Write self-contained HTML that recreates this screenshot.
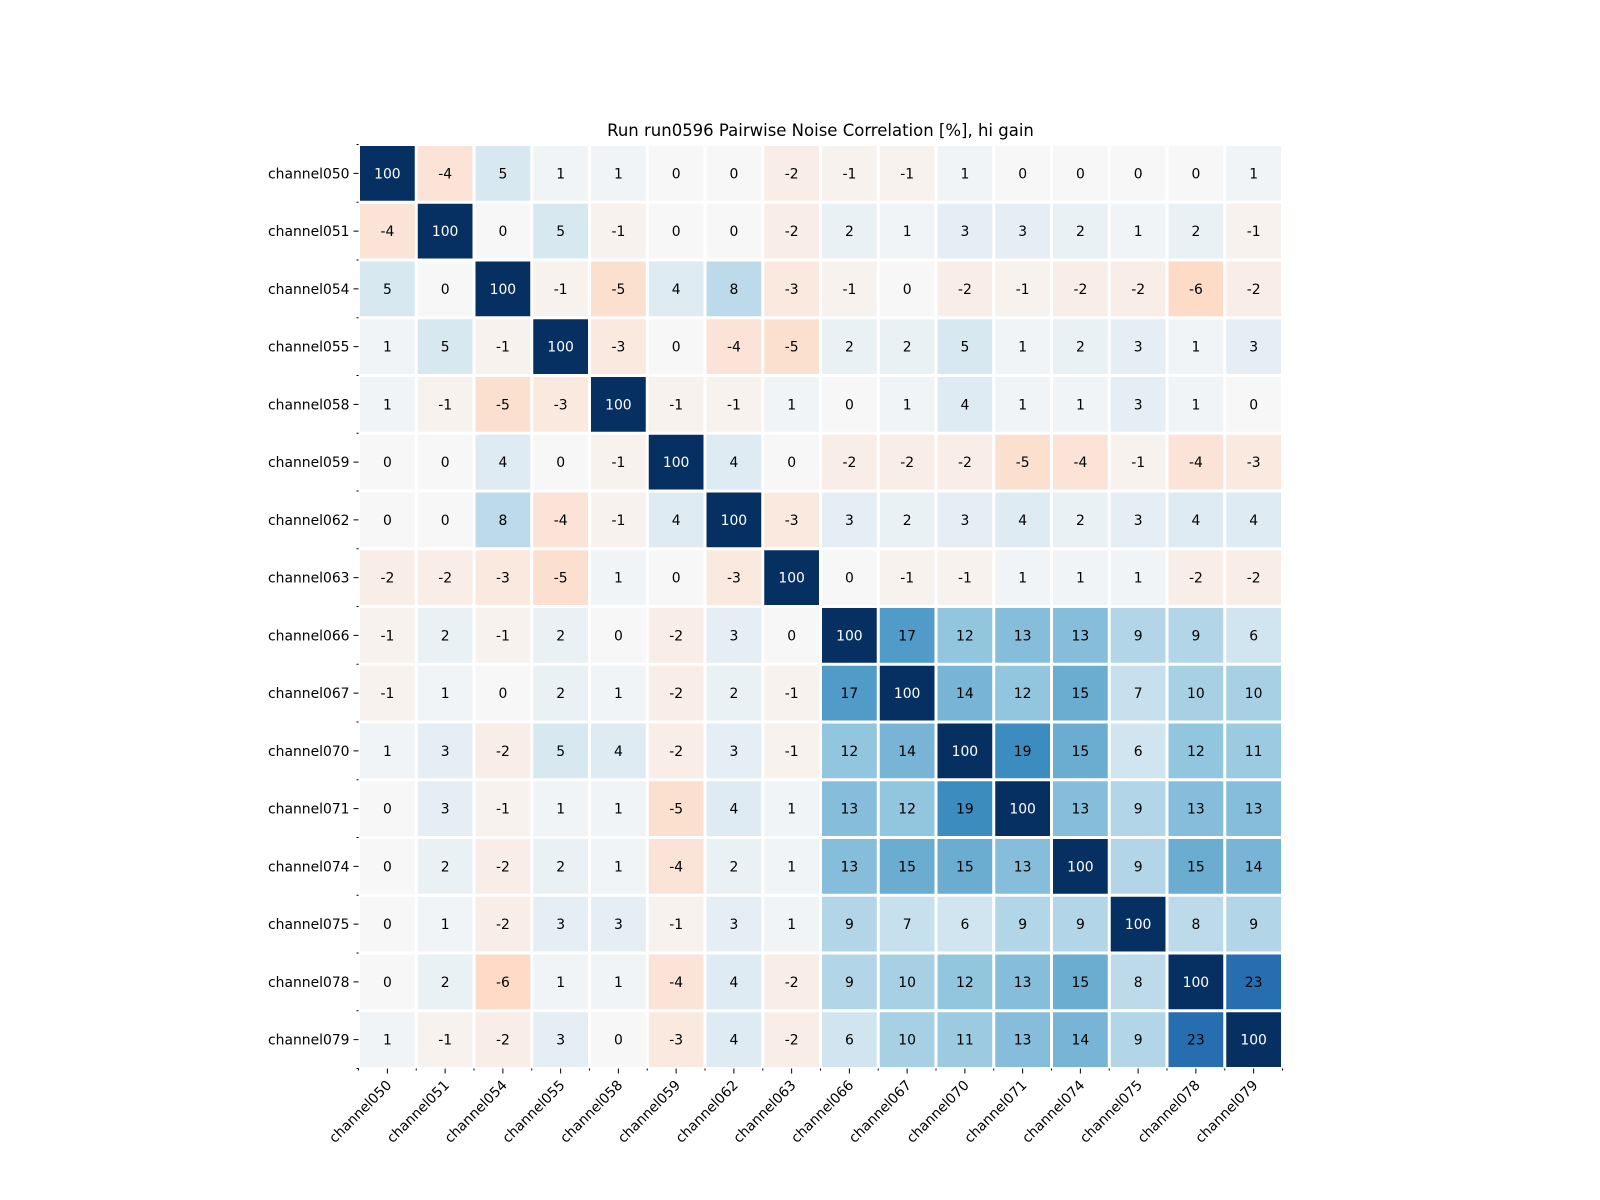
<!DOCTYPE html>
<html><head><meta charset="utf-8"><style>
body{margin:0;background:#fff}
svg{display:block;font-family:"DejaVu Sans","Liberation Sans",sans-serif}
</style></head><body>
<svg id="chart" width="1600" height="1200" viewBox="0 0 1600 1200"></svg>
<script>
const labels=["channel050","channel051","channel054","channel055","channel058","channel059","channel062","channel063","channel066","channel067","channel070","channel071","channel074","channel075","channel078","channel079"];
const r0=[100,-4,5,1,1,0,0,-2,-1,-1,1,0,0,0,0,1];
const r1=[-4,100,0,5,-1,0,0,-2,2,1,3,3,2,1,2,-1];
const r2=[5,0,100,-1,-5,4,8,-3,-1,0,-2,-1,-2,-2,-6,-2];
const r3=[1,5,-1,100,-3,0,-4,-5,2,2,5,1,2,3,1,3];
const r4=[1,-1,-5,-3,100,-1,-1,1,0,1,4,1,1,3,1,0];
const r5=[0,0,4,0,-1,100,4,0,-2,-2,-2,-5,-4,-1,-4,-3];
const r6=[0,0,8,-4,-1,4,100,-3,3,2,3,4,2,3,4,4];
const r7=[-2,-2,-3,-5,1,0,-3,100,0,-1,-1,1,1,1,-2,-2];
const r8=[-1,2,-1,2,0,-2,3,0,100,17,12,13,13,9,9,6];
const r9=[-1,1,0,2,1,-2,2,-1,17,100,14,12,15,7,10,10];
const r10=[1,3,-2,5,4,-2,3,-1,12,14,100,19,15,6,12,11];
const r11=[0,3,-1,1,1,-5,4,1,13,12,19,100,13,9,13,13];
const r12=[0,2,-2,2,1,-4,2,1,13,15,15,13,100,9,15,14];
const r13=[0,1,-2,3,3,-1,3,1,9,7,6,9,9,100,8,9];
const r14=[0,2,-6,1,1,-4,4,-2,9,10,12,13,15,8,100,23];
const r15=[1,-1,-2,3,0,-3,4,-2,6,10,11,13,14,9,23,100];
const matrix=[r0,r1,r2,r3,r4,r5,r6,r7,r8,r9,r10,r11,r12,r13,r14,r15];
const vmax=30;
const X0=358.5,Y0=144.5,W=924,N=labels.length,cw=W/N;
const xs=i=>X0+i*cw, ys=i=>Y0+i*cw;
const stops=[[103,0,31],[178,24,43],[214,96,77],[244,165,130],[253,219,199],[247,247,247],[209,229,240],[146,197,222],[67,147,195],[33,102,172],[5,48,97]];
function color(v){let t=Math.max(0,Math.min(1,(v/vmax+1)/2))*10;let i=Math.min(9,Math.floor(t)),f=t-i;
const a=stops[i],b=stops[i+1];return `rgb(${a.map((c,k)=>Math.round(c+(b[k]-c)*f)).join(',')})`;}
const svg=document.getElementById('chart');const NS='http://www.w3.org/2000/svg';
function mk(tag,attrs,parent){const e=document.createElementNS(NS,tag);for(const k in attrs)e.setAttribute(k,attrs[k]);(parent||svg).appendChild(e);return e;}
const title=mk('text',{x:X0+W/2,y:136,'text-anchor':'middle','font-size':16.5});
title.textContent='Run run0596 Pairwise Noise Correlation [%], hi gain';


matrix.forEach((row,r)=>row.forEach((v,c)=>{
 const rect=mk('rect',{x:xs(c)+1.5,y:ys(r)+1.5,width:cw-3,height:cw-3,fill:color(v)});
 
 
 const t=mk('text',{x:xs(c)+cw/2,y:ys(r)+cw/2+5,'text-anchor':'middle','font-size':13.9,fill:Math.abs(v)>60?'#fff':'#000'});
 t.textContent=v;
 
 
}));
for(let i=0;i<=N;i++){
 mk('line',{x1:X0-2,x2:X0,y1:ys(i),y2:ys(i),stroke:'#000','stroke-width':1});
 mk('line',{x1:xs(i),x2:xs(i),y1:Y0+W,y2:Y0+W+2,stroke:'#000','stroke-width':1});
}
labels.forEach((l,i)=>{
 const cy=ys(i)+cw/2,cx=xs(i)+cw/2;
 mk('line',{x1:X0-5,x2:X0,y1:cy,y2:cy,stroke:'#000','stroke-width':1});
 mk('line',{x1:cx,x2:cx,y1:Y0+W,y2:Y0+W+5,stroke:'#000','stroke-width':1});
 const ty=mk('text',{x:X0-9,y:cy+5,'text-anchor':'end','font-size':13.9});
 ty.textContent=l;
 
 
 const px=cx+5,py=1086;
 const tx=mk('text',{x:px,y:py,'text-anchor':'end','font-size':13.9,transform:`rotate(-45 ${px} ${py})`});
 tx.textContent=l;
 
 
});
</script>
</body></html>
